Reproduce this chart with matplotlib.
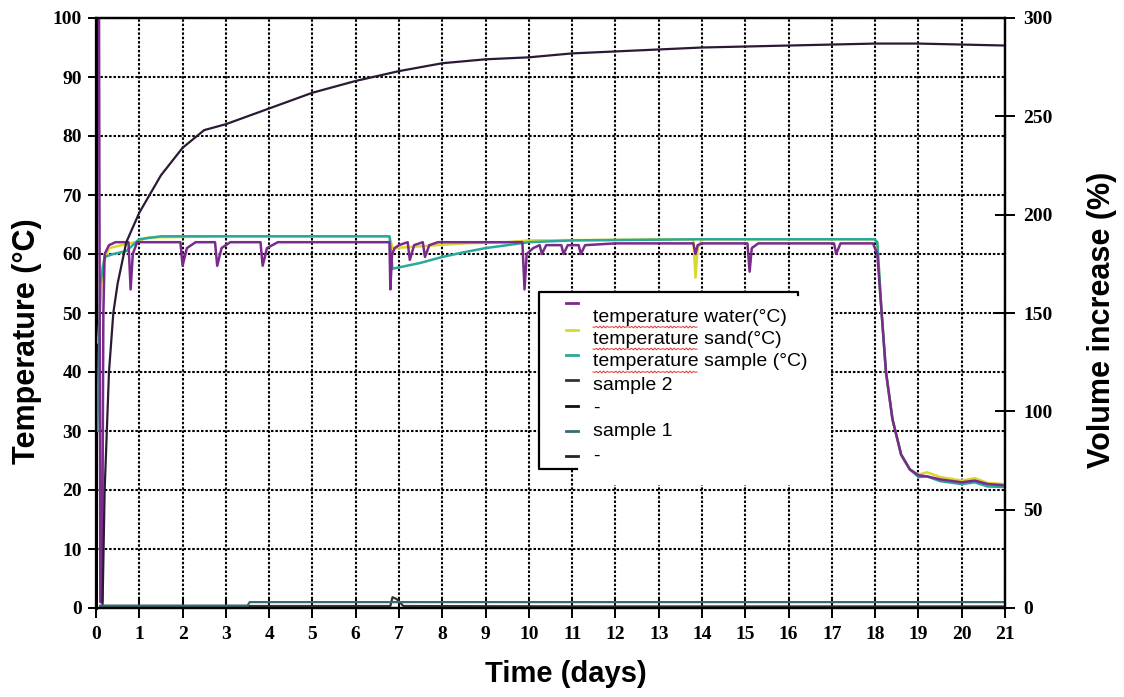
import numpy as np
import matplotlib
matplotlib.use("Agg")
import matplotlib.pyplot as plt
from matplotlib.lines import Line2D
from matplotlib.patches import Rectangle

# temperature of the water bath (°C)
t_water = [0.07, 0.10, 0.14, 0.17, 0.20, 0.30, 0.45, 0.75, 0.80, 0.85, 0.95, 1.2,
           1.95, 2.0, 2.1, 2.3, 2.75, 2.8, 2.9, 3.1, 3.8, 3.85, 3.95, 4.2, 6.78, 6.8,
           6.84, 6.9, 7.0, 7.2, 7.25, 7.35, 7.55, 7.6, 7.7, 7.9, 8.5, 9.85, 9.9, 9.95,
           10.1, 10.25, 10.3, 10.4, 10.75, 10.8, 10.9, 11.15, 11.2, 11.3, 12.0, 13.8,
           13.85, 13.9, 14.0, 15.05, 15.1, 15.15, 15.3, 16.0, 17.05, 17.1, 17.2,
           17.95, 18.05, 18.15, 18.25, 18.4, 18.6, 18.8, 19.0, 19.2, 19.5, 20.0,
           20.3, 20.6, 21.0]
v_water = [100, 1, 1, 50, 60, 61.5, 62, 62, 54, 60, 62, 62,
           62, 58, 61, 62, 62, 58, 61, 62, 62, 58, 61, 62, 62, 54,
           60, 61, 61.5, 62, 59, 61.5, 62, 59.5, 61.5, 62, 62, 62, 54, 60,
           61, 61.5, 60, 61.5, 61.5, 60, 61.5, 61.5, 60, 61.5, 61.8, 61.8,
           60, 61.5, 61.8, 61.8, 57, 61, 61.8, 61.8, 61.8, 60, 61.8,
           61.8, 60, 50, 40, 32, 26, 23.5, 22.5, 22.3, 21.8, 21.3,
           21.6, 21.0, 20.8]

# temperature of the sand (°C)
t_sand = [0.05, 0.15, 0.30, 0.9, 1.2, 3.0, 6.78, 6.85, 7.5, 8.5, 9.5, 10.0,
          13.8, 13.85, 13.9, 14.0, 17.98, 18.05, 18.15, 18.25, 18.4, 18.6, 18.8,
          19.0, 19.2, 19.5, 20.0, 20.3, 20.6, 21.0]
v_sand = [45, 58, 61, 62, 62.8, 63, 63, 61, 61.3, 61.8, 62, 62.3,
          62.5, 56, 61, 62.5, 62.5, 62, 50, 40, 32, 26, 23.5,
          22.6, 23.0, 22.2, 21.6, 22.0, 21.2, 21.0]

# temperature of the sample (°C)
t_sample = [0.03, 0.10, 0.20, 0.40, 0.70, 1.0, 1.5, 3.0, 6.78, 6.85, 7.5, 8.0,
            8.5, 9.0, 9.5, 10.0, 11.0, 14.0, 17.98, 18.05, 18.15, 18.25, 18.4,
            18.6, 18.8, 19.0, 19.2, 19.5, 20.0, 20.3, 20.6, 21.0]
v_sample = [30, 55, 59.5, 60, 60.5, 62.5, 63, 63, 63, 57.5, 58.5, 59.5,
            60.3, 61, 61.5, 62, 62.3, 62.5, 62.5, 62, 50, 40, 32,
            26, 23.5, 22.2, 22.3, 21.5, 21.0, 21.3, 20.6, 20.5]

# volume increase (%), right axis
t_vol = [0.15, 0.20, 0.30, 0.40, 0.50, 0.70, 1.0, 1.5, 2.0, 2.5, 3.0, 3.5, 4.0,
         5.0, 6.0, 7.0, 8.0, 9.0, 10.0, 11.0, 12.0, 13.0, 14.0, 15.0, 16.0,
         17.0, 18.0, 19.0, 20.0, 21.0]
v_vol = [0, 60, 120, 150, 165, 186, 201, 220, 234, 243, 246, 250, 254,
         262, 268, 273, 277, 279, 280, 282, 283, 284, 285, 285.5, 286,
         286.5, 287, 287, 286.5, 286]

t_s2 = [0.1, 3.0, 6.8, 6.85, 6.95, 7.1, 12.0, 21.0]
v_s2 = [1.0, 1.0, 1.0, 5.5, 4.5, 1.0, 0.8, 0.8]
t_s1 = [0.1, 3.5, 3.55, 21.0]
v_s1 = [1.2, 1.2, 3.0, 3.0]

c_water = "#7a2a8a"
c_sand = "#d8d830"
c_sample = "#2aa89a"
c_vol = "#2a1a35"
c_s2 = "#333333"
c_s1 = "#3a6a72"

W, H = 1124, 697
fig = plt.figure(figsize=(W / 100, H / 100), dpi=100)
ax = fig.add_axes([96 / W, 1 - 608 / H, (1005 - 96) / W, (608 - 18) / H])
ax2 = ax.twinx()

ax.plot(t_water, v_water, color=c_water, lw=1.8, zorder=4)
ax.plot(t_sand, v_sand, color=c_sand, lw=1.8, zorder=3)
ax.plot(t_sample, v_sample, color=c_sample, lw=1.8, zorder=3)
ax2.plot(t_vol, v_vol, color=c_vol, lw=1.6)
ax2.plot(t_s2, v_s2, color=c_s2, lw=1.6)
ax2.plot(t_s1, v_s1, color=c_s1, lw=1.6)

ax.set_xlim(0, 21)
ax.set_ylim(0, 100)
ax2.set_ylim(0, 300)
ax.set_xticks(range(0, 22))
ax.set_yticks(range(0, 101, 10))
ax2.set_yticks(range(0, 301, 50))

ax.grid(True, color="black", linestyle=(0, (1.2, 0.9)), linewidth=1.5)
ax.set_axisbelow(True)

for lab in ax.get_xticklabels() + ax.get_yticklabels() + ax2.get_yticklabels():
    lab.set_fontfamily("Liberation Serif")
    lab.set_fontweight("bold")
    lab.set_fontsize(14)

ax.tick_params(axis="x", direction="inout", length=14, width=1.4, pad=6)
ax.tick_params(axis="y", direction="out", length=6, width=1.4, pad=4)
ax2.tick_params(axis="y", direction="inout", length=14, width=1.4, pad=6)
for a in (ax, ax2):
    for s in a.spines.values():
        s.set_linewidth(1.6)
ax.spines["left"].set_linewidth(2.2)

lab_font = {"family": "Liberation Sans", "weight": "bold", "size": 21}
ax.set_xlabel("Time (days)", fontdict=lab_font)
ax.xaxis.set_label_coords((566 - 96) / 909, (608 - 660) / 590)
lab_font["size"] = 22
ax.set_ylabel("Temperature (°C)", fontdict=lab_font)
ax.yaxis.set_label_coords((42 - 96) / 909, (608 - 341) / 590)
ax2.set_ylabel("Volume increase (%)", fontdict=lab_font)
ax2.yaxis.set_label_coords((1087 - 96) / 909, (608 - 320) / 590)


def px(x, y):
    return x / W, 1 - y / H


# pasted legend block
for (x0, y0, x1, y1) in [(539, 292, 830, 469), (577, 469, 830, 485)]:
    fig.patches.append(Rectangle(px(x0, y1), (x1 - x0) / W, (y1 - y0) / H,
                                 transform=fig.transFigure, facecolor="white",
                                 edgecolor="none", zorder=5))
border = [[(798, 295), (798, 292), (539, 292), (539, 469), (577, 469)]]
for seg in border:
    xs, ys = zip(*[px(*p) for p in seg])
    fig.add_artist(Line2D(xs, ys, color="black", lw=1.6, zorder=6))

labels = ["temperature water(°C)", "temperature sand(°C)",
          "temperature sample (°C)", "sample 2", "-", "sample 1", "-"]
colors = [c_water, c_sand, c_sample, c_s2, "#111111", c_s1, "#222233"]
handle_y = [303, 330, 355, 380, 406, 431, 456]
text_y = [317, 339, 362, 386, 408, 432, 456]
for lab, col, hy, ty in zip(labels, colors, handle_y, text_y):
    (xa, ya), (xb, yb) = px(566, hy), px(578, hy)
    fig.add_artist(Line2D([xa, xb], [ya, yb], color=col, lw=2.0, zorder=6))
    fig.text(*px(593, ty), lab, fontsize=14, family="Liberation Sans",
             va="center", ha="left", zorder=7)
    if lab.startswith("temperature"):
        wx = np.linspace(593, 697, 60)
        wy = ty + 10 + 1.0 * np.sin(wx * 1.6)
        xs, ys = zip(*[px(a, b) for a, b in zip(wx, wy)])
        fig.add_artist(Line2D(xs, ys, color="#dd3333", lw=0.7, zorder=7))

fig.savefig("out.png", dpi=100)
